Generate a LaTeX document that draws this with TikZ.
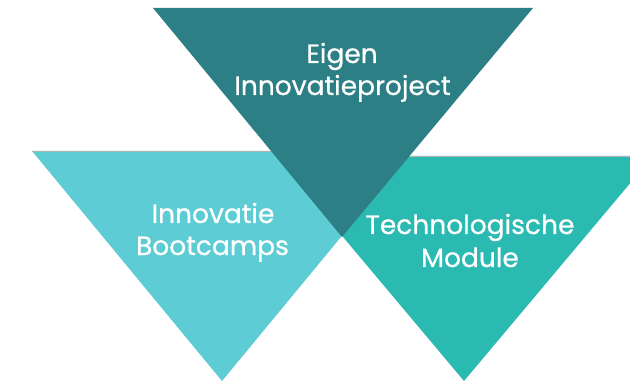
\documentclass[tikz,border=0pt]{standalone}
\usepackage{fontspec}
\setmainfont{Poppins}
\newfontfamily\lblfont{Poppins}[FakeBold=0.6]
\definecolor{darkteal}{HTML}{2C7F84}
\definecolor{lightcyan}{HTML}{5ECCD4}
\definecolor{midteal}{HTML}{2BBAB2}
\begin{document}
\begin{tikzpicture}[x=1pt,y=-1pt,
  lbl/.style={text=white,font=\lblfont\fontsize{26.5}{32}\selectfont,anchor=base,inner sep=0pt},
  edge/.style={draw=black!30,line width=0.6pt}]
\useasboundingbox (0,0) rectangle (630,385);
\fill[white] (0,0) rectangle (630,385);
\begin{scope}
\clip (0,0) rectangle (630,385);
% left triangle
\fill[lightcyan] (32,151) -- (412,151) -- (222,381) -- cycle;
\draw[edge] (32,151) -- (412,151);
% right triangle
\fill[midteal] (275,156) -- (653,156) -- (464,381) -- cycle;
\draw[edge] (275,156) -- (653,156);
% top triangle
\fill[darkteal] (153,8) -- (533,8) -- (342,237) -- cycle;
\end{scope}
\node[lbl] (t1a) at (342,63) {Eigen};
\node[lbl] (t1b) at (342.5,95) {Innovatieproject};
\node[lbl] (t2a) at (213,223) {Innovatie};
\node[lbl] (t2b) at (212.5,255) {Bootcamps};
\node[lbl] (t3a) at (470,234) {Technologische};
\node[lbl] (t3b) at (470,267) {Module};
\end{tikzpicture}
\end{document}
